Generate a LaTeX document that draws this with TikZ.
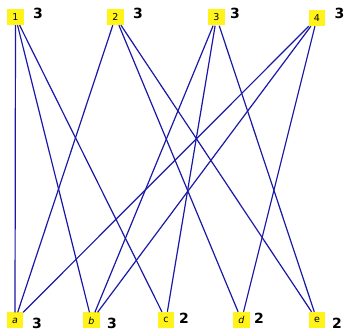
\documentclass[tikz,border=0pt]{standalone}
\usepackage{fontspec}
\setmainfont{DejaVu Sans}
\begin{document}
\begin{tikzpicture}[x=1pt,y=-1pt,
  vbox/.style={fill=yellow!90!white, inner sep=0pt, minimum width=16.5pt, minimum height=16pt, font=\fontsize{9.5}{10}\selectfont},
  deg/.style={font=\fontsize{14}{15}\selectfont\bfseries, inner sep=0pt},
  edge/.style={draw={rgb,255:red,25;green,25;blue,165}, line width=1.2pt}]
\useasboundingbox (0,0) rectangle (346,331);
\node[vbox] (n1) at (15.5,17) {1};
\node[vbox] (n2) at (115.5,17) {2};
\node[vbox] (n3) at (216.5,17.5) {3};
\node[vbox] (n4) at (317,18) {4};
\node[vbox] (na) at (15,320.5) {\itshape a};
\node[vbox] (nb) at (91.5,320.5) {\itshape b};
\node[vbox] (nc) at (166,320) {c};
\node[vbox] (nd) at (241.5,320) {\itshape d};
\node[vbox] (ne) at (317,320) {e};
\node[deg] (d1) at (38,13) {3};
\node[deg] (d2) at (138,13) {3};
\node[deg] (d3) at (235,13) {3};
\node[deg] (d4) at (339.5,13) {3};
\node[deg] (da) at (37,323.5) {3};
\node[deg] (db) at (112,323.5) {3};
\node[deg] (dc) at (184,318) {2};
\node[deg] (dd) at (259,318) {2};
\node[deg] (de) at (337,323) {2};
\draw[edge] (n1) -- (na);
\draw[edge] (n1) -- (nb);
\draw[edge] (n1) -- (nc);
\draw[edge] (n2) -- (na);
\draw[edge] (n2) -- (nd);
\draw[edge] (n2) -- (ne);
\draw[edge] (n3) -- (nb);
\draw[edge] (n3) -- (nc);
\draw[edge] (n3) -- (ne);
\draw[edge] (n4) -- (na);
\draw[edge] (n4) -- (nb);
\draw[edge] (n4) -- (nd);
\end{tikzpicture}
\end{document}
